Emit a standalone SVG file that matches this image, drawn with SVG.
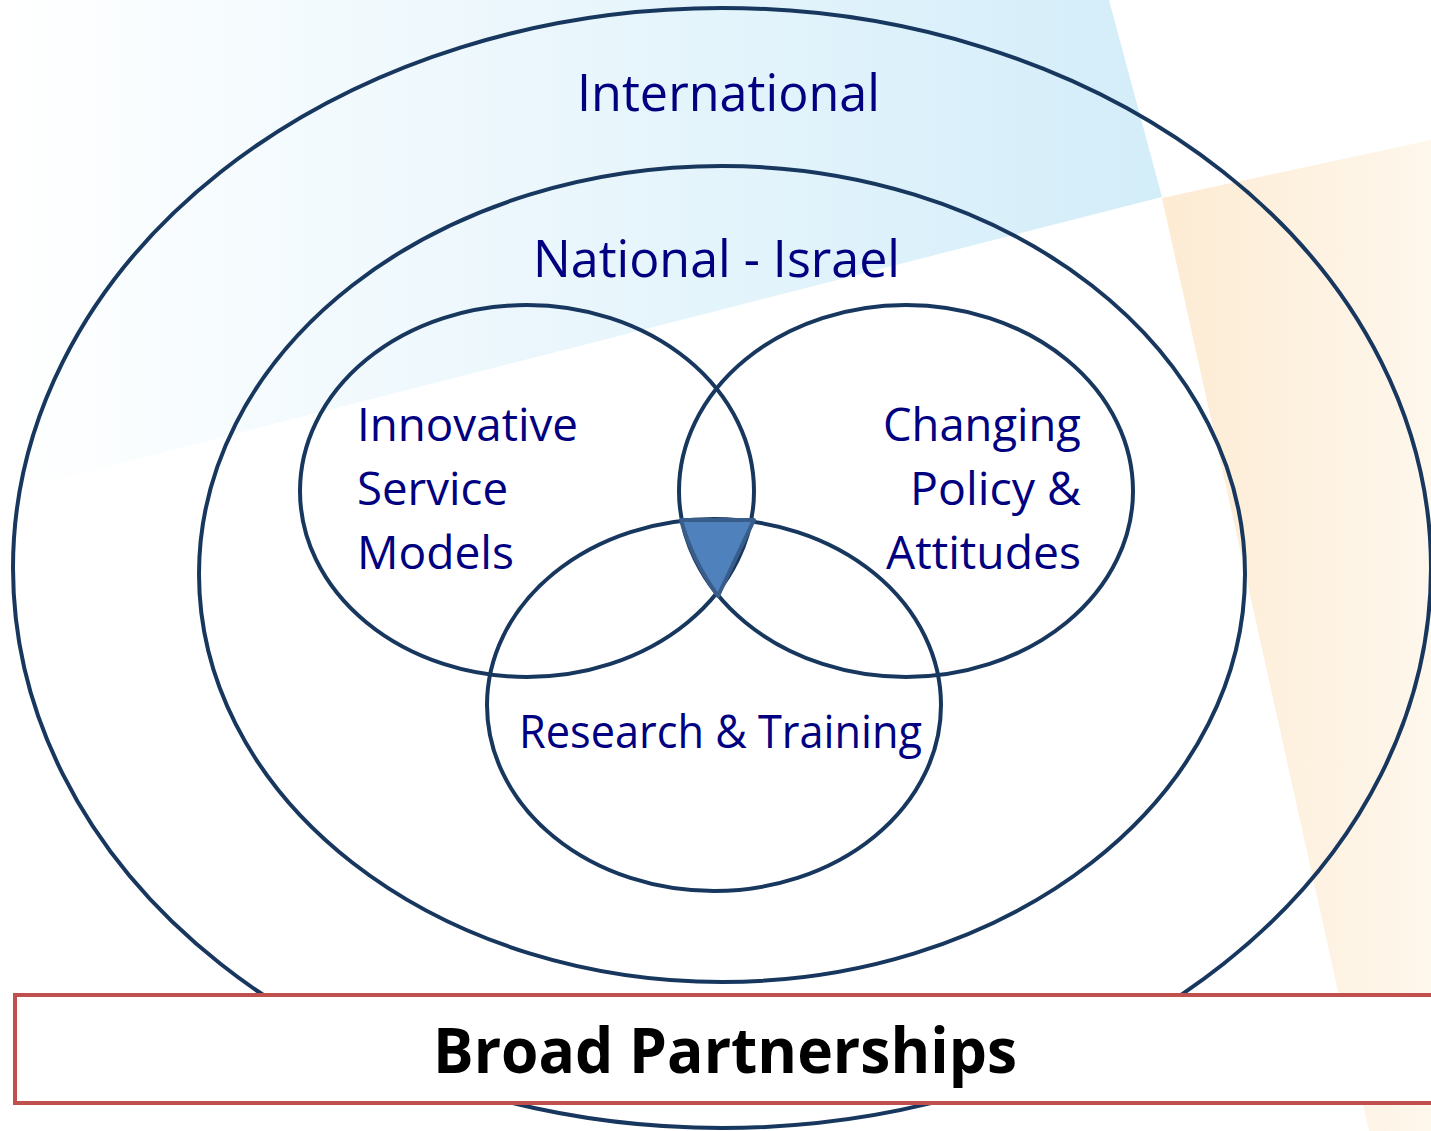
<svg xmlns="http://www.w3.org/2000/svg" width="1431" height="1131" viewBox="0 0 1431 1131">
  <defs>
    <linearGradient id="blueBg" x1="0" y1="0" x2="1" y2="0">
      <stop offset="0" stop-color="#ffffff"/>
      <stop offset="1" stop-color="#d3edf9"/>
    </linearGradient>
    <linearGradient id="orangeBg" x1="0" y1="0" x2="1" y2="0">
      <stop offset="0" stop-color="#fdebd3"/>
      <stop offset="1" stop-color="#fef7ec"/>
    </linearGradient>
    <style>
      .ring { fill: none; stroke: #17375e; stroke-width: 4; }
      .lbl { font-family: "Open Sans", "Noto Sans", sans-serif; fill: #000080; }
      .big { font-size: 52px; }
      .mid { font-size: 45px; }
    </style>
  </defs>
  <rect width="1431" height="1131" fill="#ffffff"/>
  <g id="background">
    <polygon points="0,0 1109,0 1162,197 0,494" fill="url(#blueBg)"/>
    <polygon points="1162,198 1431,140 1431,1131 1369,1131" fill="url(#orangeBg)"/>
  </g>
  <g id="international">
    <ellipse class="ring" cx="722" cy="568" rx="709" ry="560"/>
    <text class="lbl big" x="577" y="111" textLength="303" lengthAdjust="spacingAndGlyphs">International</text>
  </g>
  <g id="national">
    <ellipse class="ring" cx="722" cy="574" rx="523" ry="408"/>
    <text class="lbl big" x="533" y="277" textLength="367" lengthAdjust="spacingAndGlyphs">National - Israel</text>
  </g>
  <g id="innovative">
    <ellipse class="ring" cx="527" cy="491" rx="227" ry="186"/>
    <text class="lbl mid" x="357" y="441" textLength="221" lengthAdjust="spacingAndGlyphs">Innovative</text>
    <text class="lbl mid" x="357" y="505" textLength="151" lengthAdjust="spacingAndGlyphs">Service</text>
    <text class="lbl mid" x="357" y="569" textLength="157" lengthAdjust="spacingAndGlyphs">Models</text>
  </g>
  <g id="policy">
    <ellipse class="ring" cx="906" cy="491" rx="227" ry="186"/>
    <text class="lbl mid" x="883" y="441" textLength="198" lengthAdjust="spacingAndGlyphs">Changing</text>
    <text class="lbl mid" x="910" y="505" textLength="171" lengthAdjust="spacingAndGlyphs">Policy &amp;</text>
    <text class="lbl mid" x="886" y="569" textLength="195" lengthAdjust="spacingAndGlyphs">Attitudes</text>
  </g>
  <g id="research">
    <ellipse class="ring" cx="714" cy="705" rx="227" ry="186"/>
    <text class="lbl mid" x="519" y="748" textLength="403" lengthAdjust="spacingAndGlyphs">Research &amp; Training</text>
  </g>
  <g id="core">
    <path d="M681,520 L754,520 L718,596 Q692,560 681,520 Z" fill="#4f81bd" stroke="#385d8a" stroke-width="4" stroke-linejoin="round"/>
  </g>
  <g id="connectors"></g>
  <g id="partnerships">
    <rect x="15" y="995" width="1430" height="108" fill="#ffffff" stroke="#c0504d" stroke-width="4"/>
    <text x="433" y="1073" font-family="Open Sans, Noto Sans, sans-serif" font-weight="bold" font-size="62" fill="#000000" textLength="584" lengthAdjust="spacingAndGlyphs">Broad Partnerships</text>
  </g>
</svg>
